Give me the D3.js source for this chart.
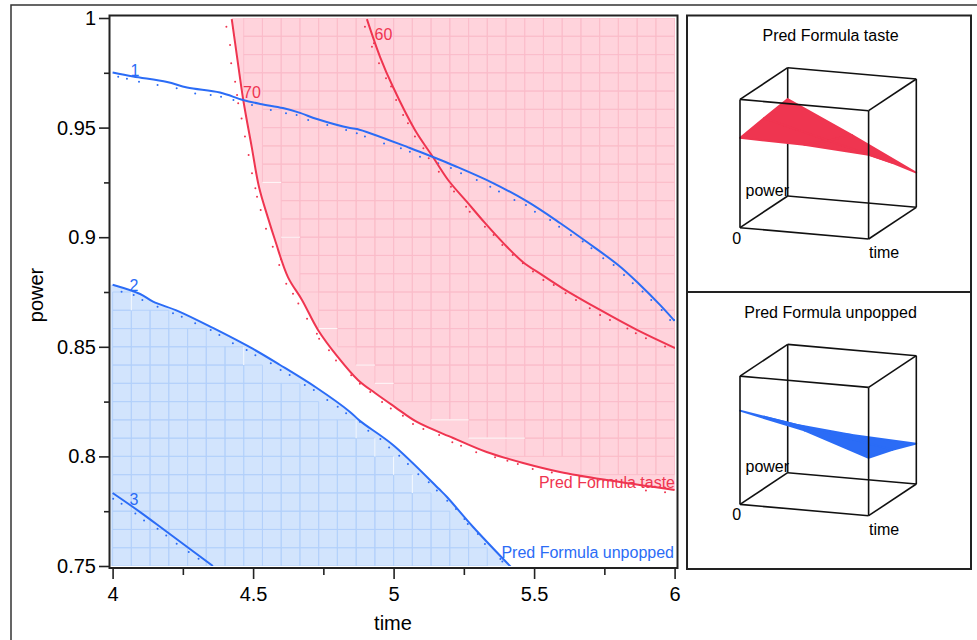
<!DOCTYPE html>
<html>
<head>
<meta charset="utf-8">
<script src="https://cdn.jsdelivr.net/npm/d3@7"></script>
<style>
  html, body { margin: 0; padding: 0; background: #fff; overflow: hidden; }
  svg { display: block; font-family: "Liberation Sans", Arial, sans-serif; }
</style>
</head>
<body>
<div id="chart-area"></div>
<script>
// contour lines, [time, power]
const taste60 = [[4.905,.9995],[4.952,.9822],[4.998,.9685],[5.076,.9489],[5.14,.9366],[5.194,.9261],[5.261,.9161],[5.325,.9065],[5.39,.8974],[5.46,.8887],[5.528,.8828],[5.6,.8768],[5.735,.8668],[5.866,.8577],[6,.8495]];
const taste70 = [[4.424,.9995],[4.443,.9822],[4.465,.9626],[4.495,.9412],[4.521,.9229],[4.553,.9088],[4.578,.8987],[4.624,.8818],[4.674,.8714],[4.731,.8577],[4.802,.8453],[4.873,.8349],[4.934,.8289],[5.005,.8225],[5.083,.8157],[5.212,.8084],[5.331,.802],[5.461,.797],[5.592,.7929],[5.758,.7892],[6,.7847]];
const unpopped1 = [[4,.9751],[4.073,.9733],[4.194,.9708],[4.265,.9683],[4.382,.966],[4.464,.9626],[4.525,.9608],[4.606,.9589],[4.667,.9567],[4.727,.9539],[4.845,.9498],[4.87,.9494],[5.058,.9407],[5.14,.9366],[5.218,.9325],[5.354,.9247],[5.478,.9161],[5.592,.9065],[5.688,.8978],[5.799,.8873],[5.87,.8791],[5.948,.8691],[6,.8618]];
const unpopped2 = [[4,.8783],[4.098,.8741],[4.144,.8706],[4.233,.8663],[4.357,.8586],[4.5,.849],[4.596,.8417],[4.727,.8312],[4.845,.8203],[4.88,.8162],[4.998,.8052],[5.162,.7851],[5.19,.7815],[5.283,.7678],[5.418,.7495]];
const unpopped3 = [[4,.7833],[4.098,.7746],[4.194,.7655],[4.357,.75]];

// approximation points beside each contour
const taste60Dots = [[4.898,.996],[4.93,.9885],[4.923,.9869],[4.948,.9793],[4.973,.9725],[4.991,.9687],[5.009,.9626],[5.034,.9557],[5.051,.952],[5.076,.9459],[5.106,.9406],[5.125,.936],[5.161,.9299],[5.204,.923],[5.215,.9208],[5.258,.9139],[5.271,.9116],[5.325,.9048],[5.356,.901],[5.387,.8964],[5.424,.8919],[5.46,.8881],[5.496,.8843],[5.533,.8805],[5.57,.8782],[5.612,.8744],[5.649,.8714],[5.698,.8676],[5.735,.8645],[5.77,.8622],[5.832,.8584],[5.862,.8562],[5.898,.8539],[5.966,.8501],[6,.8496]];
const taste70Dots = [[4.405,.996],[4.418,.9877],[4.422,.9793],[4.436,.9709],[4.443,.9649],[4.447,.9611],[4.459,.9542],[4.471,.9459],[4.484,.9375],[4.496,.9292],[4.508,.9223],[4.514,.9185],[4.527,.9124],[4.546,.9039],[4.57,.8957],[4.599,.8899],[4.593,.8873],[4.618,.8788],[4.642,.8742],[4.661,.8697],[4.692,.8628],[4.727,.856],[4.735,.8537],[4.77,.8484],[4.795,.8438],[4.849,.837],[4.88,.8332],[4.917,.8294],[4.959,.8248],[4.99,.8218],[5.033,.8186],[5.069,.8148],[5.106,.8125],[5.162,.8098],[5.209,.8064],[5.24,.8049],[5.294,.8019],[5.361,.7996],[5.405,.798],[5.442,.7965],[5.495,.7943],[5.563,.7927],[5.898,.7844],[5.966,.7836]];
const unpopped1Dots = [[4.02,.9732],[4.051,.9723],[4.094,.9709],[4.16,.9694],[4.228,.9679],[4.294,.9656],[4.349,.9649],[4.386,.9641],[4.43,.9626],[4.496,.9603],[4.563,.958],[4.617,.9565],[4.655,.9557],[4.696,.9535],[4.764,.9512],[4.831,.9489],[4.869,.9474],[4.898,.9459],[4.966,.9428],[5.026,.9406],[5.058,.939],[5.094,.9367],[5.159,.9337],[5.204,.9316],[5.24,.9292],[5.296,.9261],[5.344,.923],[5.375,.9208],[5.43,.917],[5.471,.9147],[5.503,.9116],[5.557,.9078],[5.589,.9048],[5.631,.901],[5.673,.898],[5.704,.895],[5.746,.8904],[5.783,.8873],[5.82,.8828],[5.851,.879],[5.886,.8752],[5.917,.8714],[5.954,.8668],[5.984,.8622],[6,.8622]];
const unpopped2Dots = [[4.032,.8751],[4.075,.8736],[4.106,.8714],[4.16,.8683],[4.215,.8653],[4.246,.8637],[4.294,.8607],[4.349,.8577],[4.38,.8554],[4.428,.8516],[4.477,.8485],[4.508,.8462],[4.563,.8425],[4.598,.8394],[4.63,.8371],[4.684,.8326],[4.716,.8303],[4.764,.8257],[4.801,.8227],[4.831,.8197],[4.88,.8158],[4.91,.8117],[4.953,.8079],[4.984,.8041],[5.02,.8003],[5.051,.7965],[5.088,.7919],[5.125,.7882],[5.154,.7844],[5.191,.7798],[5.222,.776],[5.252,.7714],[5.264,.7692],[5.3,.7646],[5.325,.76],[5.38,.7532],[5.387,.752]];
const unpopped3Dots = [[4.002,.7807],[4.032,.7784],[4.081,.7739],[4.112,.7708],[4.16,.767],[4.191,.7639],[4.228,.7602],[4.271,.7564],[4.306,.7533],[4.343,.7495]];

// white seams between filled cells, as grid steps [i0, j0, i1, j1]
const tasteSeams = [[8,21,9,21],[9,18,10,18],[11,13,12,13],[13,11,14,11],[14,10,15,10],[17,8,19,8],[19,7,22,7]];
const unpoppedSeams = [[13,7,13,8],[14,6,14,7],[15,5,15,6],[16,4,16,5],[7,11,7,12],[1,14,1,15]];

const timeTicks = [4, 4.5, 5, 5.5, 6];
const timeMinor = [4.25, 4.75, 5.25, 5.75];
const powerTicks = [0.75, 0.8, 0.85, 0.9, 0.95, 1];
const powerMinor = [0.775, 0.825, 0.875, 0.925, 0.975];
const powerLabels = ["0.75", "0.8", "0.85", "0.9", "0.95", "1"];

// surface heights on a 3x3 time/power mesh, rows are time
const surfaceTaste = [[.70,.73,.756],[.69,.60,.52],[.655,.47,.27]];
const surfaceUnpopped = [[.73,.56,.387],[.62,.48,.338],[.45,.39,.314]];

const RED = "#ef3550";
const BLUE = "#2b6cf6";
const TEXT = "#000";

const svg = d3.select("#chart-area").append("svg").attr("width", 977).attr("height", 640);

const x = d3.scaleLinear().domain([4, 6]).range([112.6, 674.6]);
const y = d3.scaleLinear().domain([0.75, 1]).range([566, 18]);
const line = d3.line().x(d => x(d[0])).y(d => y(d[1]));
const smooth = d3.line().x(d => x(d[0])).y(d => y(d[1])).curve(d3.curveCatmullRom.alpha(0.5));

const gridTime = i => 4 + i * 2 / 30;
const gridPower = j => .75 + j * .25 / 30;

// outer frame, runs off the page
svg.append("path").attr("d", "M11,640V5H977").attr("fill", "none").attr("stroke", "#333").attr("stroke-width", 1.5);

svg.append("clipPath").attr("id", "plot-clip").append("rect").
    attr("x", 110.6).attr("y", 18).attr("width", 564.4).attr("height", 548);
const plot = svg.append("g").attr("clip-path", "url(#plot-clip)");

const tasteRegion = taste70.concat([[6.02, .7847], [6.02, 1.01], [4.424, 1.01]]);
const unpoppedRegion = unpopped2.concat([[5.418, .74], [3.98, .74], [3.98, .8783]]);

function drawRegion(region, fill, grid, seams) {
    plot.append("path").attr("d", line(region) + "Z").attr("fill", fill);
    // the 30x30 solver grid only shows in cells that are fully inside
    const path = d3.path();
    d3.range(30).forEach(i => d3.range(30).forEach(j => {
        const t0 = gridTime(i), t1 = gridTime(i + 1);
        const p0 = gridPower(j), p1 = gridPower(j + 1);
        const inside = [[t0, p0], [t1, p0], [t1, p1], [t0, p1]].every(c => d3.polygonContains(region, c));
        if (inside) {
            path.rect(x(t0), y(p1), x(t1) - x(t0), y(p0) - y(p1));
        }
    }));
    plot.append("path").attr("d", path.toString()).attr("fill", "none").attr("stroke", grid).attr("stroke-width", 0.9);
    plot.append("g").selectAll("line").data(seams).enter().append("line").
        attr("x1", s => x(gridTime(s[0]))).
        attr("y1", s => y(gridPower(s[1]))).
        attr("x2", s => x(gridTime(s[2]))).
        attr("y2", s => y(gridPower(s[3]))).
        attr("stroke", "#fff").attr("stroke-width", 1.2).attr("opacity", 0.85);
}
drawRegion(tasteRegion, "#ffd3dc", "#fbbcc9", tasteSeams);
drawRegion(unpoppedRegion, "#d2e4fd", "#b2d0fa", unpoppedSeams);

[[taste60Dots, RED], [taste70Dots, RED], [unpopped1Dots, BLUE], [unpopped2Dots, BLUE], [unpopped3Dots, BLUE]].forEach(([dots, color]) => {
    plot.append("g").selectAll("circle").data(dots).enter().append("circle").
        attr("cx", d => x(d[0])).
        attr("cy", d => y(d[1])).
        attr("r", 1).
        attr("fill", color);
});

[[taste60, RED], [taste70, RED], [unpopped1, BLUE], [unpopped2, BLUE], [unpopped3, BLUE]].forEach(([pts, color]) => {
    plot.append("path").attr("d", smooth(pts)).attr("fill", "none").attr("stroke", color).attr("stroke-width", 2);
});

function label(parent, txt, px, py, size, color, anchor) {
    return parent.append("text").attr("x", px).attr("y", py).attr("font-size", size + "px").
        attr("fill", color).attr("text-anchor", anchor || "start").text(txt);
}
label(svg, "1", 135, 76, 16, BLUE, "middle");
label(svg, "2", 134, 291, 16, BLUE, "middle");
label(svg, "3", 134, 505, 16, BLUE, "middle");
label(svg, "70", 243, 98, 16, RED);
label(svg, "60", 374.5, 40, 16, RED);
label(svg, "Pred Formula taste", 675, 488, 16, RED, "end");
label(svg, "Pred Formula unpopped", 674, 558, 16, BLUE, "end");

svg.append("rect").attr("x", 109.5).attr("y", 15.5).attr("width", 568).attr("height", 552.5).
    attr("fill", "none").attr("stroke", "#222").attr("stroke-width", 2);

const xAxisCall = d3.axisBottom(x).tickValues(timeTicks).tickFormat(d => d).tickSize(10).tickPadding(8);
const yAxisCall = d3.axisLeft(y).tickValues(powerTicks).tickFormat((d, i) => powerLabels[i]).tickSize(10).tickPadding(3);

const xGroup = svg.append("g").attr("transform", "translate(0,569)").call(xAxisCall);
xGroup.append("g").call(d3.axisBottom(x).tickValues(timeMinor).tickSize(6).tickFormat(""));
const yGroup = svg.append("g").attr("transform", "translate(109,0)").call(yAxisCall);
yGroup.append("g").call(d3.axisLeft(y).tickValues(powerMinor).tickSize(5).tickFormat(""));

svg.selectAll(".domain").remove();
svg.selectAll(".tick line").attr("stroke", "#222").attr("stroke-width", 1.6);
svg.selectAll(".tick text").attr("font-size", "20px").attr("font-family", "Liberation Sans").attr("fill", TEXT);

label(svg, "time", 393, 630, 20, TEXT, "middle");
svg.append("text").attr("transform", "translate(43,295) rotate(-90)").attr("text-anchor", "middle").
    attr("font-size", "20px").attr("fill", TEXT).text("power");

// right hand 3d panels, corners given as [time, power, height] in the unit cube
const backEdges = [[[0,1,1],[0,1,0]], [[0,1,0],[0,0,0]], [[0,1,0],[1,1,0]]];
const frontEdges = [[[0,0,1],[1,0,1]], [[1,0,1],[1,0,0]], [[0,0,0],[1,0,0]], [[0,0,0],[0,0,1]],
    [[0,0,1],[0,1,1]], [[1,0,1],[1,1,1]], [[0,1,1],[1,1,1]], [[1,1,1],[1,1,0]], [[1,1,0],[1,0,0]]];

function drawPanel(top, bottom, title, titleY, offset, surface, color) {
    svg.append("rect").attr("x", 687).attr("y", top).attr("width", 284).attr("height", bottom - top).
        attr("fill", "none").attr("stroke", "#222").attr("stroke-width", 2);
    label(svg, title, 830.5, titleY, 16, TEXT, "middle");

    const project = c => [740 + 128.6 * c[0] + 47.7 * c[1],
        227.7 + offset + 11.3 * c[0] - 31.7 * c[1] - 128.3 * c[2]];
    const edge = e => "M" + e.map(project).join("L");
    const g = svg.append("g");

    g.selectAll(".back").data(backEdges).enter().append("path").attr("class", "back").attr("d", edge).
        attr("fill", "none").attr("stroke", "#111").attr("stroke-width", 1.6);

    const quads = [];
    d3.range(2).forEach(i => d3.range(2).forEach(j => {
        quads.push([[i/2, j/2, surface[i][j]], [(i+1)/2, j/2, surface[i+1][j]],
            [(i+1)/2, (j+1)/2, surface[i+1][j+1]], [i/2, (j+1)/2, surface[i][j+1]]]);
    }));
    g.selectAll(".quad").data(quads).enter().append("path").attr("class", "quad").
        attr("d", q => edge(q) + "Z").attr("fill", color).attr("stroke", color).attr("stroke-width", 1.8).attr("stroke-linejoin", "round");

    g.selectAll(".front").data(frontEdges).enter().append("path").attr("class", "front").attr("d", edge).
        attr("fill", "none").attr("stroke", "#111").attr("stroke-width", 1.6);

    label(svg, "power", 745.5, 195.7 + offset, 16, TEXT);
    label(svg, "0", 736.7, 243.5 + offset, 16, TEXT, "middle");
    label(svg, "time", 869, 258.3 + offset, 16, TEXT);
}
drawPanel(15.5, 292, "Pred Formula taste", 41, 0, surfaceTaste, RED);
drawPanel(292, 569, "Pred Formula unpopped", 318, 276.7, surfaceUnpopped, BLUE);
</script>
</body>
</html>
